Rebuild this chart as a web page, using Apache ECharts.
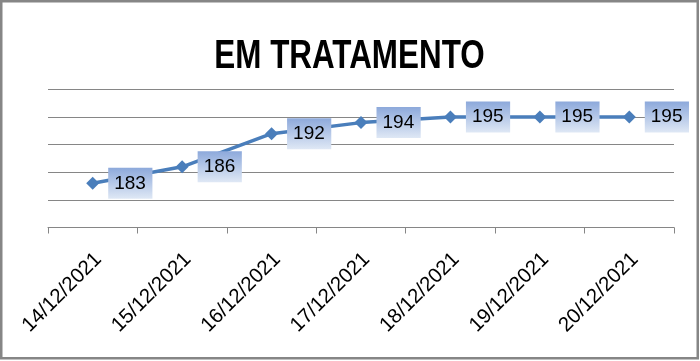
<!DOCTYPE html>
<html>
<head>
<meta charset="utf-8">
<script src="https://cdn.jsdelivr.net/npm/echarts@6/dist/echarts.min.js"></script>
<style>html,body{margin:0;padding:0;background:#fff;}#chart{width:700px;height:361px;}</style>
</head>
<body>
<div id="chart"></div>
<script>
var titleText = 'EM TRATAMENTO';
var categories = ['14/12/2021','15/12/2021','16/12/2021','17/12/2021','18/12/2021','19/12/2021','20/12/2021'];
var values = [183, 186, 192, 194, 195, 195, 195];
var yMin = 175, yMax = 200, yStep = 5;

var chart = echarts.init(document.getElementById('chart'), null, {renderer: 'canvas'});
chart.setOption({
  animation: false,
  backgroundColor: '#ffffff',
  graphic: [{
    type: 'text',
    x: 349.5,
    y: 56.5,
    scaleX: 0.785,
    scaleY: 1,
    silent: true,
    style: {
      text: titleText,
      x: 0,
      y: 0,
      align: 'center',
      verticalAlign: 'middle',
      fontFamily: "'Liberation Sans', Arial, sans-serif",
      fontWeight: 'bold',
      fontSize: 40,
      fill: '#000000'
    }
  }, {
    type: 'rect',
    shape: {x: 1.25, y: 1.25, width: 696.5, height: 357},
    style: {fill: 'none', stroke: '#868686', lineWidth: 2.5},
    silent: true,
    z: 100
  }],
  grid: {left: 48, right: 26, top: 89.5, bottom: 133.5, containLabel: false},
  xAxis: {
    type: 'category',
    data: categories,
    boundaryGap: true,
    axisLine: {show: true, lineStyle: {color: '#868686', width: 1}},
    axisTick: {show: true, length: 6, interval: 0, lineStyle: {color: '#868686'}},
    axisLabel: {
      interval: 0,
      rotate: 45,
      margin: 23,
      verticalAlign: 'top',
      lineHeight: 16,
      fontSize: 20.5,
      fontFamily: "'Liberation Sans', sans-serif",
      color: '#000000'
    },
    splitLine: {show: false}
  },
  yAxis: {
    type: 'value',
    min: yMin,
    max: yMax,
    interval: yStep,
    axisLine: {show: false},
    axisTick: {show: false},
    axisLabel: {show: false},
    splitLine: {show: true, lineStyle: {color: '#868686', width: 1}}
  },
  series: [{
    type: 'line',
    data: values,
    symbol: 'diamond',
    symbolSize: 13,
    lineStyle: {color: '#4A7EBB', width: 3.5},
    itemStyle: {color: '#4A7EBB'},
    label: {
      show: true,
      position: 'right',
      distance: 9,
      fontSize: 19,
      lineHeight: 19,
      fontFamily: "'Liberation Sans', sans-serif",
      color: '#000000',
      padding: [6, 6.5, 6, 6],
      backgroundColor: new echarts.graphic.LinearGradient(0, 0, 0, 1, [
        {offset: 0, color: '#8DA9DB'},
        {offset: 1, color: '#DFE8F5'}
      ])
    }
  }]
});
</script>
</body>
</html>
